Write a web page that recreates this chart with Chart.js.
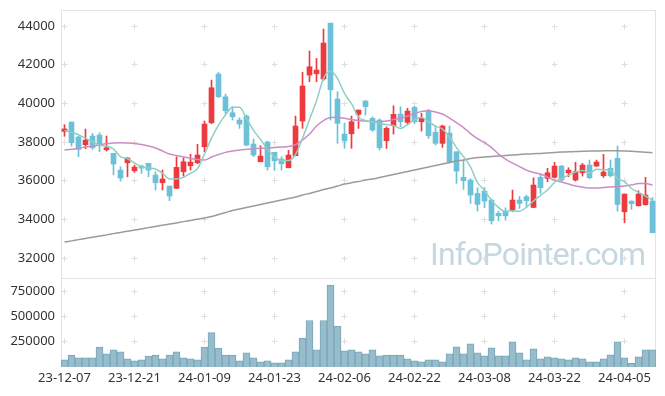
<!DOCTYPE html>
<html>
<head>
<meta charset="utf-8">
<script src="https://cdn.jsdelivr.net/npm/chart.js@4.4.1/dist/chart.umd.min.js"></script>
<style>
  html, body { margin: 0; padding: 0; background: #fff; }
  #wrap { position: relative; width: 665px; height: 396px; }
  #watermark {
    position: absolute; left: 430px; top: 235px;
    font: 32px Roboto, sans-serif; letter-spacing: -0.8px;
    color: #c6d7e1; white-space: nowrap; pointer-events: none;
  }
</style>
</head>
<body>
<div id="wrap">
  <canvas id="chart" width="665" height="396"></canvas>
  <div id="watermark">InfoPointer.com</div>
</div>
<script>
// trading days shown on the chart
const dates = [
  "23-12-07","23-12-08","23-12-11","23-12-12","23-12-13","23-12-14","23-12-15","23-12-18","23-12-19","23-12-20",
  "23-12-21","23-12-22","23-12-26","23-12-27","23-12-28","24-01-02","24-01-03","24-01-04","24-01-05","24-01-08",
  "24-01-09","24-01-10","24-01-11","24-01-12","24-01-15","24-01-16","24-01-17","24-01-18","24-01-19","24-01-22",
  "24-01-23","24-01-24","24-01-25","24-01-26","24-01-29","24-01-30","24-01-31","24-02-01","24-02-02","24-02-05",
  "24-02-06","24-02-07","24-02-08","24-02-13","24-02-14","24-02-15","24-02-16","24-02-19","24-02-20","24-02-21",
  "24-02-22","24-02-23","24-02-26","24-02-27","24-02-28","24-02-29","24-03-04","24-03-05","24-03-06","24-03-07",
  "24-03-08","24-03-11","24-03-12","24-03-13","24-03-14","24-03-15","24-03-18","24-03-19","24-03-20","24-03-21",
  "24-03-22","24-03-25","24-03-26","24-03-27","24-03-28","24-03-29","24-04-01","24-04-02","24-04-03","24-04-04",
  "24-04-05","24-04-08","24-04-09","24-04-11","24-04-12"
];

const opens = [
  38550,39035,38260,37861,38311,38363,37602,37415,36552,36930,
  36516,36760,36900,36294,35896,35725,35606,36464,36775,36930,
  37757,38999,41517,40343,39516,39138,39345,37897,36982,38000,
  37468,37121,36671,37292,39087,41466,41533,41259,44150,40224,
  38414,38430,39433,40121,39226,39138,38068,38844,39449,39019,
  39795,39050,39620,38502,37933,38466,37500,36175,36035,35345,
  35466,35000,34313,34431,34483,35000,35172,34622,36175,36123,
  36175,36759,36413,36035,36413,36811,36759,36258,36640,37158,
  34396,34949,34706,34758,34949
];
const highs = [
  38900,39035,38300,38673,38450,38480,38311,37415,36723,37200,
  36811,36811,36900,36460,36552,35725,37240,37190,37364,37882,
  39087,41207,41600,40483,39826,39257,39400,38155,37809,38050,
  37468,37240,37571,39345,41605,42707,42327,43845,44150,40602,
  38983,39345,39655,40150,39300,39200,38790,39878,39826,39743,
  39850,39485,39700,38828,38880,38828,37500,37070,36100,35636,
  35655,35050,34432,34600,35518,35190,35260,36154,36300,36640,
  36950,36790,36671,36950,36897,37070,37070,37364,37070,37794,
  35311,34960,35482,36175,35140
];
const lows = [
  38300,37790,37240,37654,37623,37500,37535,36300,35983,36205,
  36433,36380,36205,35520,35520,34965,35606,36242,36552,36880,
  37500,38950,40300,39450,39138,38709,37800,37240,36982,36552,
  36537,36552,36671,37292,38709,41119,41119,41200,39138,37933,
  37675,37675,38709,39397,38550,37587,37675,38414,38790,38950,
  38950,38570,38190,37850,37726,36900,35864,35554,34828,34432,
  34602,33760,33930,33966,34400,34570,34620,34600,35347,35950,
  36150,36000,36206,35980,36242,36100,36740,36175,36200,34432,
  33826,34520,34690,34740,33310
];
const closes = [
  38680,37965,37623,38104,37706,37810,37706,36863,36139,37173,
  36707,36650,36552,35896,36087,35208,36692,36982,36966,37328,
  38931,40809,40343,39620,39309,38931,37845,37328,37276,36723,
  37033,36878,37328,38828,40897,41895,41724,43121,40706,38968,
  38068,39050,39655,39826,38621,37706,38709,39433,39050,39604,
  39050,39226,38326,37933,38828,36982,36500,36000,35259,34778,
  34949,33930,34190,34190,35000,34828,34966,35777,35637,36413,
  36759,36035,36552,36464,36811,36154,36966,36449,36258,34778,
  35311,34810,35311,35260,33310
];

// moving averages as drawn
const ma5 = [
  38600,38500,38380,38200,38016,37842,37790,37638,37245,37138,
  36918,36716,36654,36606,36388,36089,36087,36173,36387,36635,
  37380,38203,38875,39406,39802,39802,39210,38607,38138,37621,
  37241,37048,37048,37358,38193,39165,40134,41293,41669,41283,
  40517,39983,39289,39113,39044,38972,38903,38859,38704,38900,
  39169,39273,39051,38828,38673,38259,37714,37249,36714,35904,
  35497,34983,34621,34407,34452,34428,34635,34952,35242,35524,
  35910,36124,36279,36445,36524,36403,36589,36569,36528,36121,
  35952,35600,35400,35200,35000
];
const ma20 = [
  37587,37623,37690,37742,37794,37845,37923,37949,37964,37949,
  37923,37871,37794,37690,37535,37380,37302,37225,37157,37095,
  37070,37225,37354,37468,37535,37587,37623,37654,37675,37690,
  37716,37742,37768,37871,38104,38414,38828,39112,39268,39278,
  39226,39164,39112,39087,39061,39050,39087,39164,39226,39345,
  39474,39578,39614,39552,39449,39242,39009,38750,38440,38181,
  37975,37716,37380,37121,36914,36733,36552,36423,36345,36190,
  36035,35932,35828,35725,35673,35621,35621,35647,35673,35699,
  35725,35777,35854,35854,35777
];
const ma120 = [
  32830,32890,32955,33015,33080,33140,33200,33265,33325,33390,
  33450,33510,33575,33635,33700,33760,33820,33885,33945,34010,
  34070,34150,34250,34355,34460,34535,34615,34690,34770,34845,
  34925,35000,35080,35155,35260,35345,35440,35545,35620,35725,
  35830,35895,35960,36035,36085,36165,36240,36320,36395,36475,
  36550,36630,36705,36785,36865,36940,37020,37070,37145,37200,
  37225,37250,37275,37300,37330,37355,37380,37395,37415,37430,
  37455,37485,37495,37510,37520,37535,37535,37545,37545,37545,
  37535,37520,37500,37475,37445
];

const volumes = [
  70000,117000,90000,90000,90000,197000,130000,170000,150000,80000,
  60000,70000,107000,117000,80000,117000,150000,90000,80000,70000,
  197000,340000,187000,117000,117000,60000,140000,90000,50000,60000,
  40000,40000,70000,150000,287000,460000,170000,460000,810000,405000,
  160000,170000,150000,130000,170000,110000,117000,117000,117000,80000,
  60000,50000,70000,70000,50000,130000,200000,130000,230000,140000,
  110000,190000,110000,110000,250000,140000,70000,180000,80000,100000,
  90000,80000,70000,90000,80000,50000,50000,80000,120000,250000,
  90000,37000,100000,170000,170000
];

const priceTicks = [32000, 34000, 36000, 38000, 40000, 42000, 44000];
const volumeTicks = [250000, 500000, 750000];
const labelEvery = 10;

const UP = '#ec3a3d';
const DOWN = '#6cc1d8';
const candleColors = closes.map((c, i) => (c >= opens[i] ? UP : DOWN));

// light frame around both panes + little crosses where the grid would be
const frameAndCross = {
  id: 'frameAndCross',
  beforeDatasetsDraw(chart) {
    const { ctx, chartArea, scales } = chart;
    const yp = scales.y, yv = scales.yv, x = scales.x;
    ctx.save();
    ctx.lineWidth = 1;
    ctx.strokeStyle = '#e3e3e3';
    ctx.strokeRect(chartArea.left + 0.5, Math.round(yp.top) + 0.5,
      chartArea.width - 1, Math.round(yp.bottom - yp.top));
    ctx.strokeRect(chartArea.left + 0.5, Math.round(yv.top) + 0.5,
      chartArea.width - 1, Math.round(yv.bottom - yv.top) - 1);

    ctx.strokeStyle = '#dedede';
    x.ticks.forEach(t => {
      const px = Math.floor(x.getPixelForValue(t.value)) + 0.5;
      [yp, yv].forEach(s => {
        s.ticks.forEach(yt => {
          const py = Math.floor(s.getPixelForValue(yt.value)) + 0.5;
          ctx.beginPath();
          ctx.moveTo(px - 3, py); ctx.lineTo(px + 3, py);
          ctx.moveTo(px, py - 3); ctx.lineTo(px, py + 3);
          ctx.stroke();
        });
      });
    });
    ctx.restore();
  }
};

const tickFont = { family: '"Noto Sans", sans-serif', size: 13 };

function fitYAxis(axis) {
  axis.width = 61;
  axis.paddingTop = 0;
  axis.paddingBottom = 0;
}

new Chart(document.getElementById('chart'), {
  type: 'bar',
  data: {
    labels: dates,
    datasets: [
      {
        type: 'line', label: 'MA5', data: ma5, yAxisID: 'y', order: 0,
        borderColor: '#8fcfc2', borderWidth: 1.5, pointRadius: 0,
        cubicInterpolationMode: 'monotone'
      },
      {
        type: 'line', label: 'MA20', data: ma20, yAxisID: 'y', order: 0,
        borderColor: '#cc8cc6', borderWidth: 1.5, pointRadius: 0,
        cubicInterpolationMode: 'monotone'
      },
      {
        type: 'line', label: 'MA120', data: ma120, yAxisID: 'y', order: 0,
        borderColor: '#9b9b9b', borderWidth: 1.5, pointRadius: 0,
        cubicInterpolationMode: 'monotone'
      },
      {
        label: 'wick', data: lows.map((l, i) => [l, highs[i]]), yAxisID: 'y', order: 2,
        backgroundColor: candleColors, barThickness: 1, grouped: false, borderWidth: 0
      },
      {
        label: 'body', data: opens.map((o, i) => [o, closes[i]]), yAxisID: 'y', order: 1,
        backgroundColor: candleColors, barThickness: 5, grouped: false, borderWidth: 0,
        minBarLength: 1
      },
      {
        label: 'volume', data: volumes, yAxisID: 'yv', order: 3,
        backgroundColor: '#97bdcc', borderColor: '#78a5b9', borderWidth: 1,
        barPercentage: 1, categoryPercentage: 1, grouped: false, borderSkipped: 'bottom'
      }
    ]
  },
  options: {
    responsive: false,
    animation: false,
    layout: { padding: { top: 10, right: 9, left: 0, bottom: 0 } },
    plugins: { legend: { display: false }, tooltip: { enabled: false } },
    scales: {
      x: {
        type: 'category',
        offset: true,
        grid: { display: false, drawTicks: false },
        border: { display: false },
        ticks: { autoSkip: false, maxRotation: 0, padding: 3, color: '#333', font: tickFont },
        afterBuildTicks: axis => { axis.ticks = axis.ticks.filter(t => t.value % labelEvery === 0); },
        afterFit: axis => { axis.height = 29; }
      },
      y: {
        type: 'linear',
        position: 'left',
        stack: 'panes',
        stackWeight: 268,
        weight: 1,
        min: 30970,
        max: 44830,
        grid: { display: false, drawTicks: false },
        border: { display: false },
        ticks: { padding: 6, color: '#333', font: tickFont, callback: v => String(v) },
        afterBuildTicks: axis => { axis.ticks = priceTicks.map(v => ({ value: v })); },
        afterFit: fitYAxis
      },
      yv: {
        type: 'linear',
        position: 'left',
        stack: 'panes',
        stackWeight: 89,
        weight: 0,
        min: 0,
        max: 880000,
        grid: { display: false, drawTicks: false },
        border: { display: false },
        ticks: { padding: 6, color: '#333', font: tickFont, callback: v => String(v) },
        afterBuildTicks: axis => { axis.ticks = volumeTicks.map(v => ({ value: v })); },
        afterFit: fitYAxis
      }
    }
  },
  plugins: [frameAndCross]
});
</script>
</body>
</html>
